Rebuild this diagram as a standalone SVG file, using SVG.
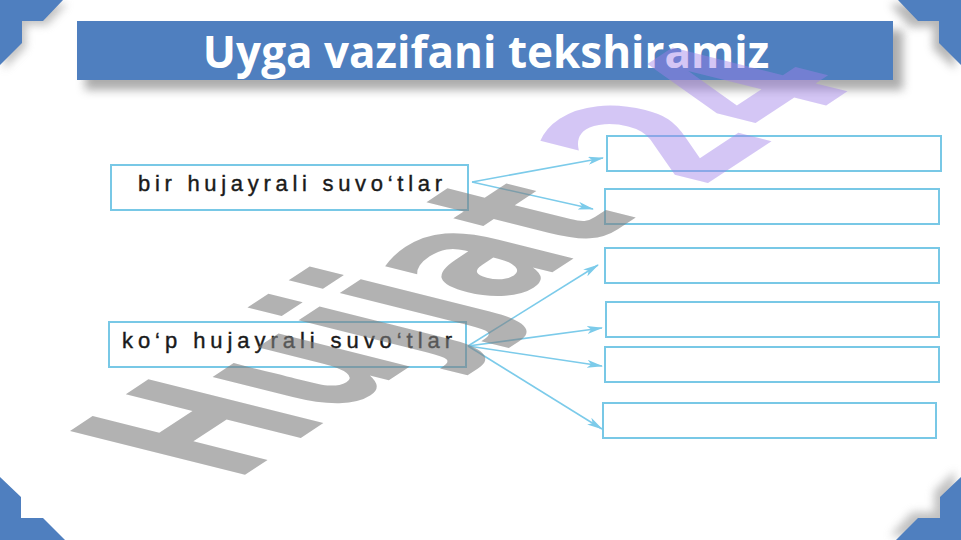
<svg xmlns="http://www.w3.org/2000/svg" width="961" height="540" viewBox="0 0 961 540">
<defs>
<style>
.corner{fill:#4F7FBF}
.box{fill:#ffffff;stroke:#78C8E6;stroke-width:2}
.lbl{font-family:"Liberation Sans",Arial,sans-serif;font-size:22px;fill:#1a1a1a;stroke:#1a1a1a;stroke-width:0.4}
.conn{stroke:#7CCBEA;stroke-width:1.6;fill:none;marker-end:url(#ah)}
.title{font-family:"Open Sans","Noto Sans",sans-serif;font-weight:bold;font-size:44px;fill:#ffffff}
</style>
<filter id="sh" x="-20%" y="-50%" width="140%" height="200%"><feGaussianBlur stdDeviation="5"/></filter>
<filter id="sh2" x="-50%" y="-50%" width="200%" height="200%"><feGaussianBlur stdDeviation="4"/></filter>
<marker id="ah" viewBox="0 0 16 8" refX="15" refY="4" markerWidth="16" markerHeight="8" markerUnits="userSpaceOnUse" orient="auto">
<path d="M0,0 L16,4 L0,8 L4,4 z" fill="#7CCBEA"/>
</marker>
</defs>
<rect width="961" height="540" fill="#ffffff"/>

<g id="corners">
<polygon points="4,4 67,4 47,25 26,25 26,47 4,69" fill="#9a9a9a" opacity="0.6" filter="url(#sh2)"/>
<polygon class="corner" points="0,0 63,0 43,21 22,21 22,43 0,65"/>
<polygon points="955,4 890,4 910,27 933,27 933,49 955,69" fill="#9a9a9a" opacity="0.7" filter="url(#sh2)"/>
<polygon class="corner" points="961,0 898,0 918,21 939,21 939,43 961,65"/>
<polygon class="corner" points="0,477 21,497 21,518 43,518 65,540 0,540"/>
<polygon points="955,471 934,491 934,512 912,512 890,536 955,536" fill="#9a9a9a" opacity="0.6" filter="url(#sh2)"/>
<polygon class="corner" points="961,477 940,497 940,518 918,518 896,540 961,540"/>
</g>

<g id="title">
<rect x="85" y="30" width="818" height="60" fill="#8a8a8a" opacity="0.7" filter="url(#sh)"/>
<rect x="77" y="21" width="816" height="59" fill="#4F7FBF"/>
<text class="title" x="486" y="68" text-anchor="middle">Uyga vazifani tekshiramiz</text>
</g>

<g id="connectors">
<line class="conn" x1="472" y1="182" x2="603" y2="158"/>
<line class="conn" x1="472" y1="182" x2="593" y2="209"/>
<line class="conn" x1="468" y1="346" x2="598" y2="265"/>
<line class="conn" x1="468" y1="346" x2="602" y2="328"/>
<line class="conn" x1="468" y1="346" x2="602" y2="366"/>
<line class="conn" x1="468" y1="346" x2="602" y2="429"/>
</g>

<g id="node-bir">
<rect class="box" x="111" y="165" width="357" height="45"/>
<text class="lbl" x="138" y="191" textLength="304" lengthAdjust="spacing">bir  hujayrali  suvo‘tlar</text>
</g>
<g id="node-kop">
<rect class="box" x="109" y="322" width="357" height="45"/>
<text class="lbl" x="122" y="348" textLength="330" lengthAdjust="spacing">ko‘p  hujayrali  suvo‘tlar</text>
</g>

<g id="node-r1"><rect class="box" x="607" y="136" width="334" height="35"/></g>
<g id="node-r2"><rect class="box" x="605" y="189" width="334" height="35"/></g>
<g id="node-r3"><rect class="box" x="605" y="248" width="334" height="35"/></g>
<g id="node-r4"><rect class="box" x="606" y="302" width="333" height="35"/></g>
<g id="node-r5"><rect class="box" x="605" y="347" width="334" height="35"/></g>
<g id="node-r6"><rect class="box" x="603" y="403" width="333" height="35"/></g>

<g id="watermark" font-family="'DejaVu Sans',sans-serif" font-weight="bold" font-size="100">
<text transform="matrix(1.2,-0.79,2.4,0.6,234,482)" fill="#7f7f7f" fill-opacity="0.6">Hujjat</text>
<text transform="matrix(1.2,-0.79,2.4,0.6,234,482)" x="375" y="6" fill="#A080E8" fill-opacity="0.45">24</text>
</g>
</svg>
